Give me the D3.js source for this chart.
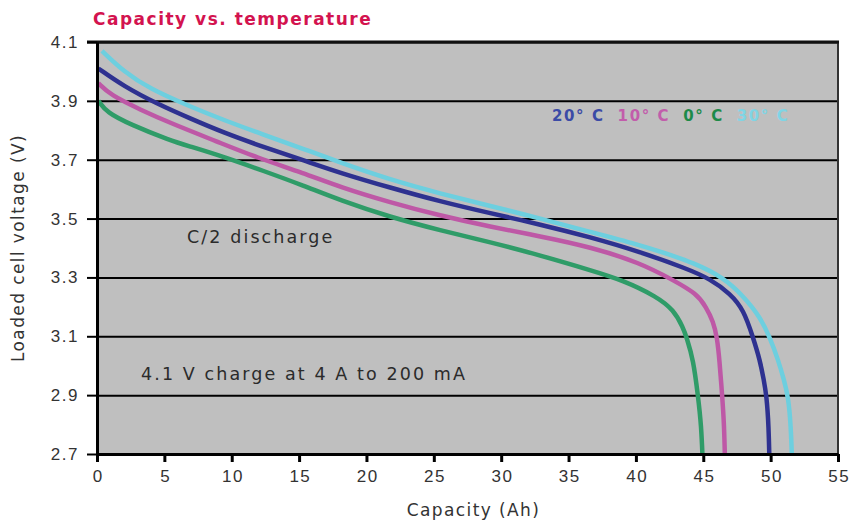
<!DOCTYPE html>
<html>
<head>
<meta charset="utf-8">
<script src="https://cdn.jsdelivr.net/npm/d3@7/dist/d3.min.js"></script>
<style>
  body { margin: 0; background: #fff; }
  svg { display: block; font-family: 'DejaVu Sans', sans-serif; }
  .tick-label { font-size: 17px; fill: #333; letter-spacing: 1.5px; }
  .axis-title { font-size: 17px; fill: #333; letter-spacing: 1.4px; }
  .note { font-size: 17.5px; fill: #2b2b2b; letter-spacing: 2.1px; }
</style>
</head>
<body>
<div id="chart"></div>
<script>
const xTicks = [0, 5, 10, 15, 20, 25, 30, 35, 40, 45, 50, 55];
const yTicks = [2.7, 2.9, 3.1, 3.3, 3.5, 3.7, 3.9, 4.1];

// [capacity Ah, voltage V]
const temp30 = [[0.37, 4.07], [1.97, 4.0], [3.96, 3.94], [6.68, 3.885], [9.39, 3.835], [12.36, 3.785],
  [15.33, 3.737], [18.05, 3.69], [21.76, 3.632], [25.47, 3.585], [29.2, 3.543], [32.9, 3.5],
  [36.6, 3.455], [40.3, 3.41], [42.0, 3.385], [44.26, 3.35], [46.5, 3.3], [48.0, 3.235],
  [49.2, 3.167], [49.95, 3.095], [50.56, 3.02], [51.0, 2.95], [51.3, 2.895], [51.5, 2.8], [51.6, 2.66]];
const temp20 = [[0.1, 4.01], [1.97, 3.95], [4.45, 3.89], [6.92, 3.84], [9.39, 3.792], [12.36, 3.743],
  [15.33, 3.698], [18.05, 3.655], [21.76, 3.605], [25.47, 3.558], [29.2, 3.518], [32.9, 3.48],
  [36.6, 3.437], [40.3, 3.387], [43.77, 3.33], [45.5, 3.295], [47.0, 3.245], [48.0, 3.19],
  [48.7, 3.095], [49.2, 3.02], [49.5, 2.95], [49.7, 2.895], [49.85, 2.8], [49.92, 2.66]];
const temp10 = [[0.1, 3.96], [0.99, 3.92], [3.21, 3.87], [5.68, 3.82], [8.9, 3.762], [11.87, 3.707],
  [15.33, 3.655], [18.05, 3.607], [21.76, 3.555], [25.47, 3.51], [29.2, 3.472], [32.9, 3.44],
  [36.6, 3.404], [40.3, 3.35], [42.8, 3.29], [44.5, 3.245], [45.2, 3.2], [45.74, 3.15],
  [46.03, 3.095], [46.2, 3.02], [46.4, 2.9], [46.55, 2.8], [46.62, 2.66]];
const temp0 = [[0.1, 3.9], [0.74, 3.86], [2.47, 3.82], [5.44, 3.765], [6.92, 3.745], [9.39, 3.71],
  [12.36, 3.662], [15.33, 3.612], [18.05, 3.562], [21.76, 3.505], [25.47, 3.46], [29.2, 3.42],
  [32.9, 3.375], [36.6, 3.325], [39.07, 3.29], [41.54, 3.235], [42.8, 3.19], [43.5, 3.13],
  [43.77, 3.095], [44.26, 3.02], [44.6, 2.9], [44.85, 2.8], [44.97, 2.66]];

const series = [
  { name: '30° C', data: temp30, color: '#6dcfdf', label: '#7fd5e5' },
  { name: '20° C', data: temp20, color: '#2e3190', label: '#3b4ba6' },
  { name: '10° C', data: temp10, color: '#be58a6', label: '#c25dab' },
  { name: '0° C', data: temp0, color: '#2f9c68', label: '#1d8a48' }
];
const legendOrder = ['20° C', '10° C', '0° C', '30° C'];

const width = 855;
const height = 523;
const margin = { top: 42, right: 17, bottom: 69, left: 97 };
const innerWidth = width - margin.left - margin.right;
const innerHeight = height - margin.top - margin.bottom;

const svg = d3.select('#chart').append('svg')
  .attr('width', width)
  .attr('height', height);

svg.append('text')
  .attr('x', 93)
  .attr('y', 25)
  .attr('fill', '#d3134f')
  .attr('font-size', '17px')
  .attr('font-weight', 'bold')
  .attr('letter-spacing', '1.5px')
  .text('Capacity vs. temperature');

const chart = svg.append('g')
  .attr('transform', `translate(${margin.left},${margin.top})`);

const x = d3.scaleLinear().domain([0, 55]).range([0, innerWidth]);
const y = d3.scaleLinear().domain([2.7, 4.1]).range([innerHeight, 0]);

chart.append('rect')
  .attr('width', innerWidth)
  .attr('height', innerHeight)
  .attr('fill', '#bfbfbf');

chart.append('defs').append('clipPath').attr('id', 'plot-clip')
  .append('rect').attr('width', innerWidth).attr('height', innerHeight);

// horizontal grid
chart.append('g')
  .call(d3.axisLeft(y).tickValues(yTicks).tickSize(-innerWidth).tickFormat(''))
  .call((g) => g.select('.domain').remove())
  .call((g) => g.selectAll('line').attr('stroke', '#000').attr('stroke-width', 2));

// right border
chart.append('line')
  .attr('x1', innerWidth).attr('x2', innerWidth)
  .attr('y1', 0).attr('y2', innerHeight)
  .attr('stroke', '#333').attr('stroke-width', 2);

// top border
chart.append('line')
  .attr('x1', -10).attr('x2', innerWidth + 1)
  .attr('y1', 0).attr('y2', 0)
  .attr('stroke', '#111').attr('stroke-width', 3);

const line = d3.line()
  .x((d) => x(d[0]))
  .y((d) => y(d[1]))
  .curve(d3.curveBasis);

chart.append('g')
  .attr('clip-path', 'url(#plot-clip)')
  .selectAll('path')
  .data(series)
  .enter()
  .append('path')
  .attr('d', (s) => line(s.data))
  .attr('fill', 'none')
  .attr('stroke', (s) => s.color)
  .attr('stroke-width', 4.5)
  .attr('stroke-linecap', 'butt')
  .attr('stroke-linejoin', 'round');

const yAxis = chart.append('g')
  .call(d3.axisLeft(y).tickValues(yTicks).tickSize(10).tickSizeOuter(0).tickPadding(8)
    .tickFormat(d3.format('.1f')));
yAxis.select('.domain').attr('stroke', '#000').attr('stroke-width', 3);
yAxis.selectAll('line').attr('stroke', '#000').attr('stroke-width', 2);
yAxis.selectAll('text').attr('class', 'tick-label');

const xAxis = chart.append('g')
  .attr('transform', `translate(0,${innerHeight})`)
  .call(d3.axisBottom(x).tickValues(xTicks).tickSize(8).tickSizeOuter(0).tickPadding(8));
xAxis.select('.domain').attr('stroke', '#000').attr('stroke-width', 3);
xAxis.selectAll('line').attr('stroke', '#000').attr('stroke-width', 3);
xAxis.selectAll('text').attr('class', 'tick-label').attr('dx', '0.75px');

chart.append('text')
  .attr('transform', `translate(-73,${innerHeight / 2}) rotate(-90)`)
  .attr('text-anchor', 'middle')
  .attr('class', 'axis-title')
  .text('Loaded cell voltage (V)');

chart.append('text')
  .attr('x', (x(0) + x(55)) / 2 + 6)
  .attr('y', innerHeight + 62)
  .attr('text-anchor', 'middle')
  .attr('class', 'axis-title')
  .text('Capacity (Ah)');

chart.append('text')
  .attr('class', 'note')
  .attr('x', 90)
  .attr('y', 201)
  .text('C/2 discharge');

chart.append('text')
  .attr('class', 'note')
  .attr('x', 44)
  .attr('y', 338)
  .text('4.1 V charge at 4 A to 200 mA');

// legend: one text per series, laid out left to right
let legendX = 455;
legendOrder.forEach((name) => {
  const s = series.find((d) => d.name === name);
  const t = chart.append('text')
    .attr('x', legendX)
    .attr('y', 79)
    .attr('font-size', '15px')
    .attr('font-weight', 'bold')
    .attr('letter-spacing', '1.6px')
    .attr('fill', s.label)
    .text(s.name);
  legendX += t.node().getComputedTextLength() + 13;
});
</script>
</body>
</html>
